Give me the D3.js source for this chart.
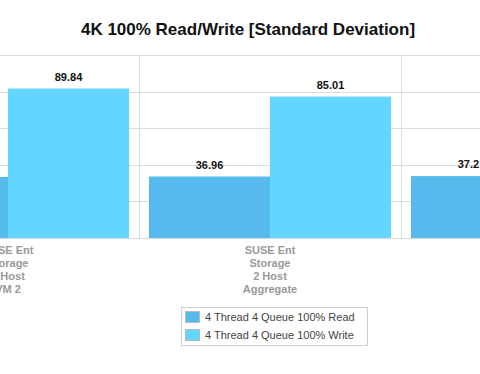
<!DOCTYPE html>
<html>
<head>
<meta charset="utf-8">
<title>4K 100% Read/Write [Standard Deviation]</title>
<script src="https://d3js.org/d3.v7.min.js"></script>
<style>
  body { margin: 0; background: #fff; }
  text { font-family: "Liberation Sans", Arial, Helvetica, sans-serif; }
</style>
</head>
<body>
<svg width="480" height="374"></svg>
<script>
// data (chart is cropped on both sides)
var groups = ["SUSE Ent\nStorage\n2 Host\nVM 2", "SUSE Ent\nStorage\n2 Host\nAggregate", "SUSE Ent\nStorage\n2 Host\nVM 1"];
var series = ["4 Thread 4 Queue 100% Read", "4 Thread 4 Queue 100% Write"];
var readVals  = [36.71, 36.96, 37.21];
var writeVals = [89.84, 85.01, 86.40];
var colors = ["#56baec", "#62d6fe"];
var yTicks = [0, 22, 44, 66, 88, 110];

var svg = d3.select("svg");

// plot area
var plotTop = 55, plotBottom = 238;
var groupW = 262;

var x0 = d3.scaleBand()
    .domain(groups)
    .range([270 - groupW * 1.5, 270 + groupW * 1.5]);   // middle group centered at 270
var x1 = d3.scaleBand()
    .domain(series)
    .range([10, groupW - 10]);
var y = d3.scaleLinear()
    .domain([0, 110])
    .range([plotBottom, plotTop]);

// gridlines
var grid = svg.append("g");
grid.selectAll("line.h")
  .data(yTicks)
  .enter().append("line")
    .attr("x1", 0).attr("x2", 480)
    .attr("y1", function(d) { return Math.round(y(d)) + 0.5; })
    .attr("y2", function(d) { return Math.round(y(d)) + 0.5; })
    .attr("stroke", "#dcdcdc");
var bounds = groups.map(function(g) { return x0(g); }).concat([x0.range()[1]]);
grid.selectAll("line.v")
  .data(bounds)
  .enter().append("line")
    .attr("x1", function(d) { return Math.round(d) + 0.5; })
    .attr("x2", function(d) { return Math.round(d) + 0.5; })
    .attr("y1", y(110)).attr("y2", y(0))
    .attr("stroke", "#dcdcdc");

// bars
var rows = [];
groups.forEach(function(g, i) {
  rows.push({g: g, s: series[0], v: readVals[i], c: colors[0]});
  rows.push({g: g, s: series[1], v: writeVals[i], c: colors[1]});
});

svg.append("g").selectAll("rect")
  .data(rows)
  .enter().append("rect")
    .attr("x", function(d) { return x0(d.g) + x1(d.s); })
    .attr("width", x1.bandwidth())
    .attr("y", function(d) { return y(d.v); })
    .attr("height", function(d) { return y(0) - y(d.v); })
    .attr("fill", function(d) { return d.c; });

// value labels
svg.append("g").selectAll("text")
  .data(rows)
  .enter().append("text")
    .attr("x", function(d) { return x0(d.g) + x1(d.s) + x1.bandwidth() / 2; })
    .attr("y", function(d) { return y(d.v) - 8; })
    .attr("text-anchor", "middle")
    .attr("font-size", "11px")
    .attr("font-weight", "bold")
    .attr("fill", "#111")
    .text(function(d) { return d.v.toFixed(2); });

// category labels
var cat = svg.append("g").selectAll("text")
  .data(groups)
  .enter().append("text")
    .attr("x", function(d) { return x0(d) + groupW / 2; })
    .attr("y", 254)
    .attr("text-anchor", "middle")
    .attr("font-size", "11px")
    .attr("font-weight", "bold")
    .attr("fill", "#9a9a9a");
cat.selectAll("tspan")
  .data(function(d) { return d.split("\n"); })
  .enter().append("tspan")
    .attr("x", function() { return d3.select(this.parentNode).attr("x"); })
    .attr("dy", function(d, i) { return i ? 13 : 0; })
    .text(function(d) { return d; });

// title
svg.append("text")
  .attr("x", 248)
  .attr("y", 35)
  .attr("text-anchor", "middle")
  .attr("font-size", "17px")
  .attr("font-weight", "bold")
  .attr("fill", "#111")
  .text("4K 100% Read/Write [Standard Deviation]");

// legend
var legend = svg.append("g");
legend.append("rect")
  .attr("x", 181.5).attr("y", 307.5)
  .attr("width", 186).attr("height", 38)
  .attr("fill", "#fff")
  .attr("stroke", "#cfcfcf");
var item = legend.selectAll("g")
  .data(series)
  .enter().append("g")
    .attr("transform", function(d, i) { return "translate(0," + (i * 18) + ")"; });
item.append("rect")
  .attr("x", 185.5).attr("y", 311.5)
  .attr("width", 14).attr("height", 11)
  .attr("fill", function(d, i) { return colors[i]; })
  .attr("stroke", "#bbb");
item.append("text")
  .attr("x", 205)
  .attr("y", 321)
  .attr("font-size", "11px")
  .attr("fill", "#444")
  .text(function(d) { return d; });
</script>
</body>
</html>
